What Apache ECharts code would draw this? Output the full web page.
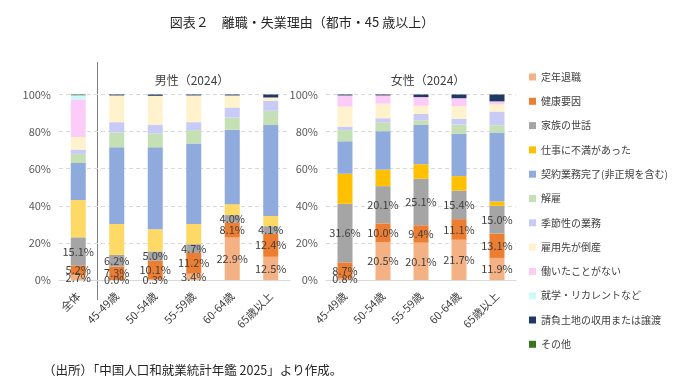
<!DOCTYPE html>
<html><head><meta charset="utf-8">
<script src="https://cdn.jsdelivr.net/npm/echarts@6/dist/echarts.min.js"></script>
<style>html,body{margin:0;padding:0;background:#fff}#c{width:680px;height:389px}</style>
</head><body><div id="c"></div>
<script>
const categoriesLeft = ['全体','45-49歳','50-54歳','55-59歳','60-64歳','65歳以上'];
const categoriesRight = ['45-49歳','50-54歳','55-59歳','60-64歳','65歳以上'];
const seriesNames = ['定年退職','健康要因','家族の世話','仕事に不満があった','契約業務完了(非正規を含む)','解雇','季節性の業務','雇用先が倒産','働いたことがない','就学・リカレントなど','請負土地の収用または譲渡','その他'];
const yTicks = [0,20,40,60,80,100];

// Left panel: 全体 + 男性 (45-49, 50-54, 55-59, 60-64, 65+)
const left_teinen   = [2.7, 0.0, 0.3, 3.4, 22.9, 12.5];
const left_kenko    = [5.2, 7.3, 10.1, 11.2, 8.1, 12.4];
const left_kazoku   = [15.1, 6.2, 5.0, 4.7, 4.0, 4.1];
const left_fuman    = [20.1, 16.7, 11.9, 10.9, 5.9, 5.5];
const left_keiyaku  = [20.0, 41.3, 44.2, 43.4, 40.1, 49.0];
const left_kaiko    = [4.9, 8.0, 7.5, 7.2, 6.6, 7.7];
const left_kisetsu  = [2.3, 5.6, 4.7, 4.3, 5.4, 5.4];
const left_tosan    = [6.8, 14.4, 15.6, 14.4, 6.5, 1.8];
const left_nashi    = [20.2, 0, 0, 0, 0, 0];
const left_shugaku  = [2.3, 0, 0, 0, 0, 0];
const left_ukeoi    = [0.1, 0.5, 0.7, 0.5, 0.5, 1.6];
const left_sonota   = [0.3, 0, 0, 0, 0, 0];

// Right panel: 女性
const right_teinen  = [0.8, 20.5, 20.1, 21.7, 11.9];
const right_kenko   = [8.7, 10.0, 9.4, 11.1, 13.1];
const right_kazoku  = [31.6, 20.1, 25.1, 15.4, 15.0];
const right_fuman   = [16.2, 8.9, 7.8, 7.8, 2.3];
const right_keiyaku = [17.5, 20.7, 21.2, 22.8, 37.2];
const right_kaiko   = [6.0, 4.7, 2.5, 5.0, 3.9];
const right_kisetsu = [1.9, 2.3, 3.4, 3.2, 7.4];
const right_tosan   = [10.8, 7.9, 4.4, 6.7, 3.9];
const right_nashi   = [6.0, 4.4, 4.7, 4.3, 1.6];
const right_shugaku = [0, 0, 0, 0, 0];
const right_ukeoi   = [0.5, 0.5, 1.4, 2.0, 3.7];
const right_sonota  = [0, 0, 0, 0, 0];

const leftData = [left_teinen,left_kenko,left_kazoku,left_fuman,left_keiyaku,left_kaiko,left_kisetsu,left_tosan,left_nashi,left_shugaku,left_ukeoi,left_sonota];
const rightData = [right_teinen,right_kenko,right_kazoku,right_fuman,right_keiyaku,right_kaiko,right_kisetsu,right_tosan,right_nashi,right_shugaku,right_ukeoi,right_sonota];

const colors = ['#F4B183','#ED7D31','#A5A5A5','#FFC000','#8FAADC','#C5E0B4','#C9CBF7','#FFF2CC','#FCCCF8','#CCFAFA','#1F3864','#38761D'];
const leftColors = colors.slice(); leftColors[3] = '#FFD966';

const FONT = '"Noto Sans CJK JP", "Noto Sans", sans-serif';
const TXT = '#404040';

function mkSeries(data, idx, cols) {
  return seriesNames.map((n, i) => ({
    name: n, type: 'bar', stack: 's' + idx, xAxisIndex: idx, yAxisIndex: idx,
    barWidth: 15, data: data[i], itemStyle: {color: cols[i]},
    label: i < 3 ? {show: true, position: 'inside', formatter: p => p.value.toFixed(1) + '%',
      color: TXT, fontSize: 11, fontFamily: FONT} : {show: false},
    emphasis: {disabled: true}, animation: false
  }));
}

function yAx(idx) {
  return {type: 'value', gridIndex: idx, min: 0, max: 100, interval: 20,
    axisLabel: {formatter: v => v + '%', color: '#595959', fontSize: 11, fontFamily: FONT, margin: 8},
    axisLine: {show: false}, axisTick: {show: false},
    splitLine: {lineStyle: {color: '#D9D9D9', type: [4, 3]}}};
}
function xAx(idx, cats) {
  return {type: 'category', gridIndex: idx, data: cats,
    axisLabel: {rotate: 45, color: TXT, fontSize: 11, fontFamily: FONT, margin: 14, interval: 0},
    axisLine: {lineStyle: {color: '#D9D9D9'}}, axisTick: {show: false}};
}

const chart = echarts.init(document.getElementById('c'), null, {renderer: 'canvas'});
chart.setOption({
  animation: false,
  textStyle: {fontFamily: FONT},
  title: [
    {text: '図表２　離職・失業理由（都市・45 歳以上）', left: 297, top: 11, textAlign: 'center',
      textStyle: {fontSize: 13, fontWeight: 'normal', color: '#262626', fontFamily: FONT}},
    {text: '男性（2024）', left: 187, top: 69, textAlign: 'center',
      textStyle: {fontSize: 12, fontWeight: 'normal', color: TXT, fontFamily: FONT}},
    {text: '女性（2024）', left: 423, top: 69, textAlign: 'center',
      textStyle: {fontSize: 12, fontWeight: 'normal', color: TXT, fontFamily: FONT}},
    {text: '（出所）「中国人口和就業統計年鑑 2025」より作成。', left: 38, top: 359,
      textStyle: {fontSize: 12.5, fontWeight: 'normal', color: '#262626', fontFamily: FONT}}
  ],
  legend: {
    orient: 'vertical', left: 524, top: 65, itemWidth: 7, itemHeight: 7, itemGap: 10.3, icon: 'rect',
    textStyle: {fontSize: 10, color: TXT, fontFamily: FONT, lineHeight: 14},
    data: seriesNames.map((n, i) => ({name: n, itemStyle: {color: colors[i]}})),
    selectedMode: false
  },
  grid: [
    {left: 59, top: 94.5, width: 231, height: 185.5},
    {left: 326, top: 94.5, width: 190, height: 185.5}
  ],
  xAxis: [xAx(0, categoriesLeft), xAx(1, categoriesRight)],
  yAxis: [yAx(0), yAx(1)],
  graphic: [{type: 'line', shape: {x1: 97.5, y1: 62, x2: 97.5, y2: 300}, style: {stroke: '#7F7F7F', lineWidth: 1}, silent: true}],
  series: mkSeries(leftData, 0, leftColors).concat(mkSeries(rightData, 1, colors))
});
</script></body></html>
